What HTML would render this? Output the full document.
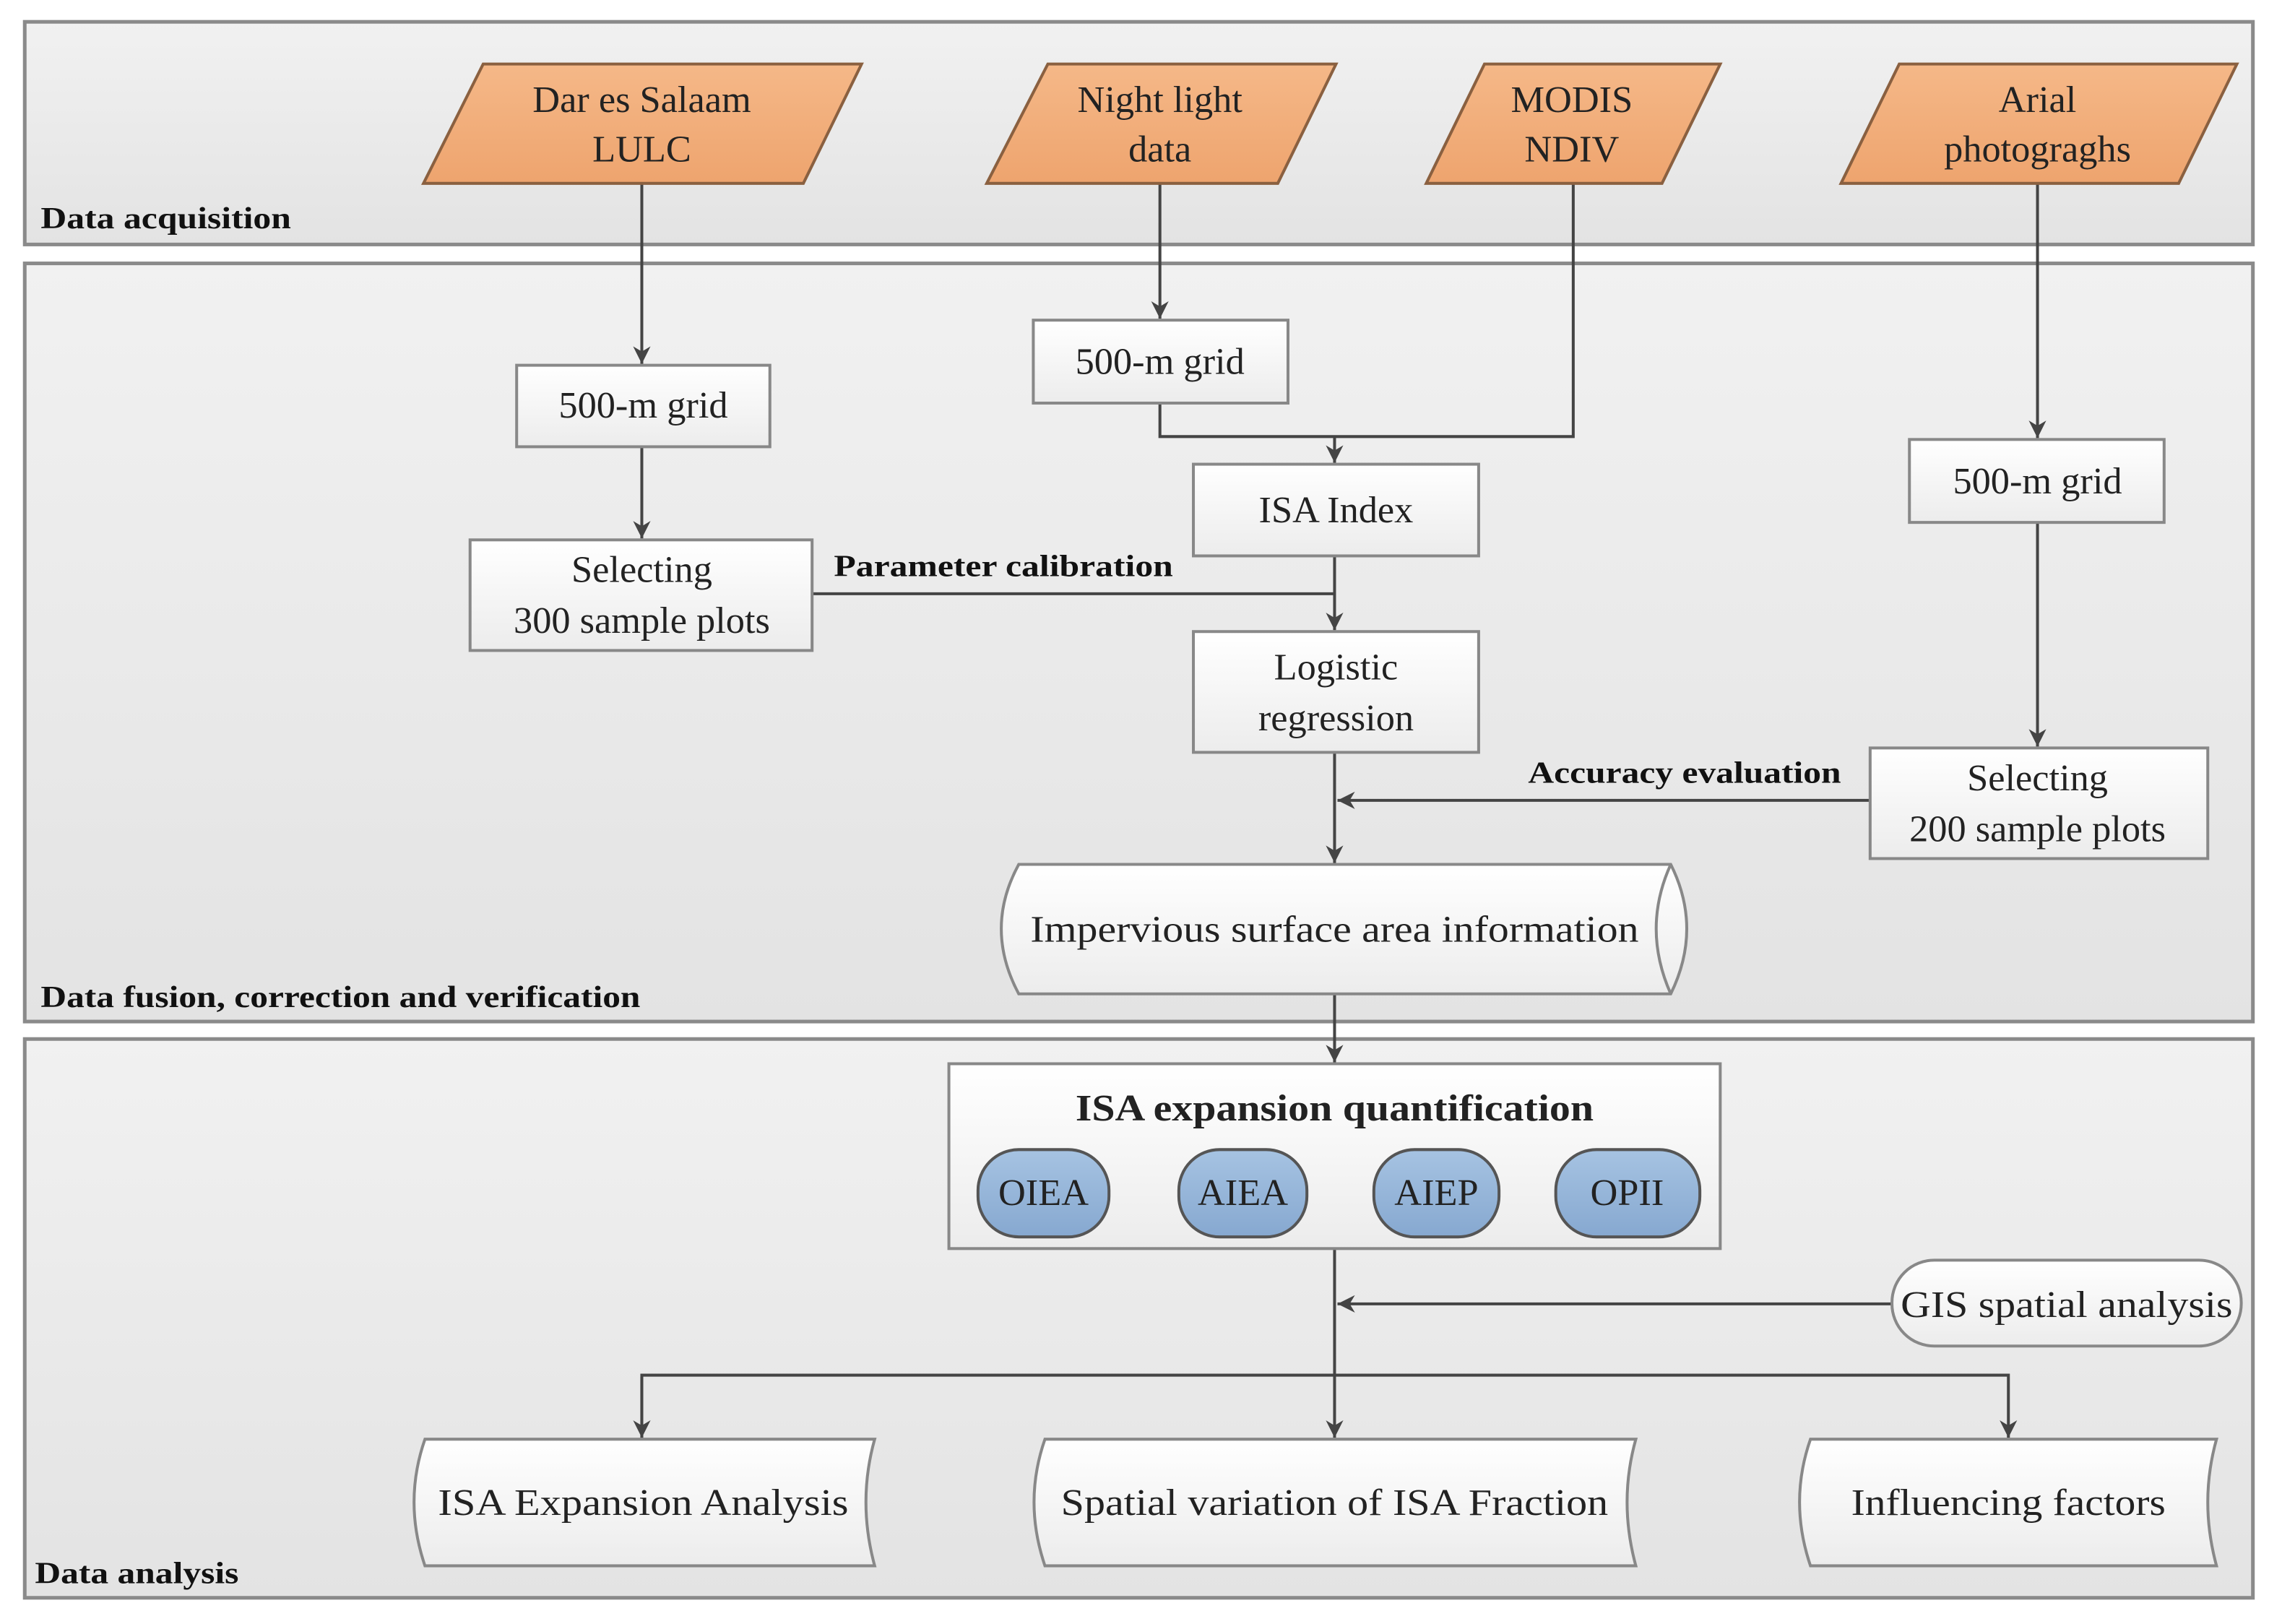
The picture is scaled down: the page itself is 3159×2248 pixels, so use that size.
<!DOCTYPE html>
<html><head><meta charset="utf-8"><style>html,body{margin:0;padding:0;background:#fff}svg{display:block}svg text{font-family:"Liberation Serif","Times New Roman",serif}</style></head><body>
<svg width="3159" height="2248" viewBox="0 0 1568 1116" preserveAspectRatio="none" xmlns="http://www.w3.org/2000/svg" fill="#222">
<defs>
<linearGradient id="pg" x1="0" y1="0" x2="0" y2="1"><stop offset="0" stop-color="#f1f1f1"/><stop offset="1" stop-color="#e3e3e3"/></linearGradient>
<linearGradient id="wb" x1="0" y1="0" x2="0" y2="1"><stop offset="0" stop-color="#ffffff"/><stop offset="1" stop-color="#ececec"/></linearGradient>
<linearGradient id="or" x1="0" y1="0" x2="0" y2="1"><stop offset="0" stop-color="#f5b888"/><stop offset="1" stop-color="#eea46e"/></linearGradient>
<linearGradient id="bl" x1="0" y1="0" x2="0" y2="1"><stop offset="0" stop-color="#a6c3e2"/><stop offset="1" stop-color="#86a8d0"/></linearGradient>
<marker id="a" viewBox="0 0 10 10" refX="10" refY="5" markerWidth="12" markerHeight="12" markerUnits="userSpaceOnUse" orient="auto"><path d="M0,0 L10,5 L0,10 L3,5z" fill="#444"/></marker>
</defs>
<rect width="1568" height="1116" fill="#fff"/>
<g stroke="#8a8a8a" stroke-width="2.5" fill="url(#pg)">
<rect x="17" y="15" width="1531" height="153"/>
<rect x="17" y="181" width="1531" height="521"/>
<rect x="17" y="714" width="1531" height="384"/>
</g>
<g font-weight="bold" font-size="21" fill="#111">
<text x="28" y="157" textLength="172" lengthAdjust="spacingAndGlyphs">Data acquisition</text>
<text x="28" y="692" textLength="412" lengthAdjust="spacingAndGlyphs">Data fusion, correction and verification</text>
<text x="24" y="1088" textLength="140" lengthAdjust="spacingAndGlyphs">Data analysis</text>
<text x="573" y="396" textLength="233" lengthAdjust="spacingAndGlyphs">Parameter calibration</text>
<text x="1050" y="538" textLength="215" lengthAdjust="spacingAndGlyphs">Accuracy evaluation</text>
</g>
<g stroke="#444" stroke-width="2" fill="none">
<line x1="441" y1="126" x2="441" y2="250" marker-end="url(#a)"/>
<line x1="441" y1="307" x2="441" y2="370" marker-end="url(#a)"/>
<line x1="797" y1="126" x2="797" y2="219" marker-end="url(#a)"/>
<polyline points="797,277 797,300 1081,300 1081,126"/>
<line x1="917" y1="300" x2="917" y2="318" marker-end="url(#a)"/>
<polyline points="558,408 917,408"/>
<line x1="917" y1="382" x2="917" y2="433" marker-end="url(#a)"/>
<line x1="1400" y1="126" x2="1400" y2="301" marker-end="url(#a)"/>
<line x1="1400" y1="359" x2="1400" y2="513" marker-end="url(#a)"/>
<line x1="917" y1="517" x2="917" y2="593" marker-end="url(#a)"/>
<line x1="1285" y1="550" x2="919" y2="550" marker-end="url(#a)"/>
<line x1="917" y1="683" x2="917" y2="730" marker-end="url(#a)"/>
<line x1="917" y1="858" x2="917" y2="988" marker-end="url(#a)"/>
<line x1="1300" y1="896" x2="919" y2="896" marker-end="url(#a)"/>
<polyline points="441,988 441,945 1380,945 1380,988" marker-end="url(#a)"/>
<line x1="441" y1="946" x2="441" y2="988" marker-end="url(#a)"/>
</g>
<g stroke="#8a6040" stroke-width="2" fill="url(#or)">
<polygon points="332,44 592,44 552,126 291,126"/>
<polygon points="720,44 918,44 878,126 678,126"/>
<polygon points="1020,44 1182,44 1142,126 980,126"/>
<polygon points="1305,44 1537,44 1497,126 1265,126"/>
</g>
<g font-size="26" text-anchor="middle">
<text x="441" y="77">Dar es Salaam</text><text x="441" y="111">LULC</text>
<text x="797" y="77">Night light</text><text x="797" y="111">data</text>
<text x="1080" y="77">MODIS</text><text x="1080" y="111">NDIV</text>
<text x="1400" y="77">Arial</text><text x="1400" y="111">photograghs</text>
</g>
<g stroke="#888" stroke-width="2" fill="url(#wb)">
<rect x="355" y="251" width="174" height="56"/>
<rect x="710" y="220" width="175" height="57"/>
<rect x="820" y="319" width="196" height="63"/>
<rect x="323" y="371" width="235" height="76"/>
<rect x="820" y="434" width="196" height="83"/>
<rect x="1312" y="302" width="175" height="57"/>
<rect x="1285" y="514" width="232" height="76"/>
<rect x="652" y="731" width="530" height="127"/>
<path d="M700,594 L1148,594 Q1170,638 1148,683 L700,683 Q676,638 700,594Z"/>
<path d="M1148,594 Q1128,638 1148,683" fill="none"/>
<rect x="1300" y="866" width="240" height="59" rx="29"/>
<path d="M292,989 L601,989 Q589,1032 601,1076 L292,1076 Q277,1032 292,989Z"/>
<path d="M718,989 L1124,989 Q1112,1032 1124,1076 L718,1076 Q703,1032 718,989Z"/>
<path d="M1244,989 L1523,989 Q1511,1032 1523,1076 L1244,1076 Q1229,1032 1244,989Z"/>
</g>
<g stroke="#555" stroke-width="2" fill="url(#bl)">
<rect x="672" y="790" width="90" height="60" rx="28"/>
<rect x="810" y="790" width="88" height="60" rx="28"/>
<rect x="944" y="790" width="86" height="60" rx="28"/>
<rect x="1069" y="790" width="99" height="60" rx="28"/>
</g>
<g font-size="26" text-anchor="middle">
<text x="442" y="287">500-m grid</text>
<text x="797" y="257">500-m grid</text>
<text x="918" y="359">ISA Index</text>
<text x="441" y="400">Selecting</text><text x="441" y="435">300 sample plots</text>
<text x="918" y="467">Logistic</text><text x="918" y="502">regression</text>
<text x="1400" y="339">500-m grid</text>
<text x="1400" y="543">Selecting</text><text x="1400" y="578">200 sample plots</text>
<text x="917" y="647" textLength="418" lengthAdjust="spacingAndGlyphs">Impervious surface area information</text>
<text x="917" y="770" font-weight="bold" textLength="356" lengthAdjust="spacingAndGlyphs">ISA expansion quantification</text>
<text x="717" y="828">OIEA</text><text x="854" y="828">AIEA</text><text x="987" y="828">AIEP</text><text x="1118" y="828">OPII</text>
<text x="1420" y="905" textLength="228" lengthAdjust="spacingAndGlyphs">GIS spatial analysis</text>
<text x="442" y="1041" textLength="282" lengthAdjust="spacingAndGlyphs">ISA Expansion Analysis</text>
<text x="917" y="1041" textLength="376" lengthAdjust="spacingAndGlyphs">Spatial variation of ISA Fraction</text>
<text x="1380" y="1041" textLength="216" lengthAdjust="spacingAndGlyphs">Influencing factors</text>
</g>
</svg>
</body></html>
